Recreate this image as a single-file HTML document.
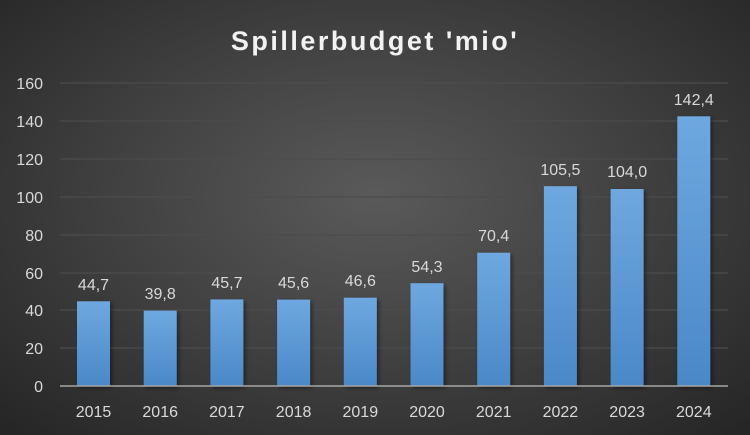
<!DOCTYPE html>
<html><head><style>
html,body{margin:0;padding:0;}
body{width:750px;height:435px;overflow:hidden;background:radial-gradient(ellipse 70% 75% at 50% 45%,#5a5a5a 0%,#3e3e3e 55%,#262626 100%);font-family:"Liberation Sans",sans-serif;}
</style></head><body>
<svg width="750" height="435" xmlns="http://www.w3.org/2000/svg" style="position:absolute;left:0;top:0">
<defs>
<linearGradient id="b" x1="0" y1="0" x2="0" y2="1"><stop offset="0" stop-color="#6fa8e0"/><stop offset="1" stop-color="#4a88c8"/></linearGradient>
<filter id="s" x="-30%" y="-10%" width="160%" height="130%"><feDropShadow dx="2" dy="2" stdDeviation="2" flood-color="#000" flood-opacity="0.45"/></filter>
</defs>
<text x="375" y="50" text-anchor="middle" fill="#f2f2f2" font-size="27" font-weight="bold" letter-spacing="2.5">Spillerbudget 'mio'</text>
<g stroke="#4c4c4c" stroke-width="1.3">
<line x1="60" x2="728" y1="83" y2="83"/><line x1="60" x2="728" y1="121" y2="121"/><line x1="60" x2="728" y1="159" y2="159"/><line x1="60" x2="728" y1="197" y2="197"/><line x1="60" x2="728" y1="235" y2="235"/><line x1="60" x2="728" y1="273" y2="273"/><line x1="60" x2="728" y1="310" y2="310"/><line x1="60" x2="728" y1="348" y2="348"/>
</g>
<g fill="#d9d9d9" font-size="16" text-anchor="end">
<text x="43" y="89">160</text><text x="43" y="127">140</text><text x="43" y="165">120</text><text x="43" y="203">100</text><text x="43" y="241">80</text><text x="43" y="279">60</text><text x="43" y="316">40</text><text x="43" y="354">20</text><text x="43" y="392">0</text>
</g>
<g fill="url(#b)" filter="url(#s)">
<rect x="77" y="301.3" width="33" height="84.7"/>
<rect x="143.7" y="310.6" width="33" height="75.4"/>
<rect x="210.4" y="299.4" width="33" height="86.6"/>
<rect x="277.1" y="299.6" width="33" height="86.4"/>
<rect x="343.8" y="297.7" width="33" height="88.3"/>
<rect x="410.5" y="283.2" width="33" height="102.8"/>
<rect x="477.2" y="252.7" width="33" height="133.3"/>
<rect x="543.9" y="186.2" width="33" height="199.8"/>
<rect x="610.6" y="189" width="33" height="197"/>
<rect x="677.3" y="116.3" width="33" height="269.7"/>
</g>
<line x1="60" x2="728" y1="386" y2="386" stroke="#a6a6a6" stroke-width="1.5"/>
<g fill="#d9d9d9" font-size="16" text-anchor="middle">
<text x="93.5" y="290">44,7</text><text x="160.2" y="299">39,8</text><text x="226.9" y="288">45,7</text><text x="293.6" y="288">45,6</text><text x="360.3" y="286">46,6</text><text x="427" y="272">54,3</text><text x="493.7" y="241">70,4</text><text x="560.4" y="175">105,5</text><text x="627.1" y="177">104,0</text><text x="693.8" y="105">142,4</text>
</g>
<g fill="#d9d9d9" font-size="16" text-anchor="middle">
<text x="93.5" y="417">2015</text><text x="160.2" y="417">2016</text><text x="226.9" y="417">2017</text><text x="293.6" y="417">2018</text><text x="360.3" y="417">2019</text><text x="427" y="417">2020</text><text x="493.7" y="417">2021</text><text x="560.4" y="417">2022</text><text x="627.1" y="417">2023</text><text x="693.8" y="417">2024</text>
</g>
</svg>
</body></html>
